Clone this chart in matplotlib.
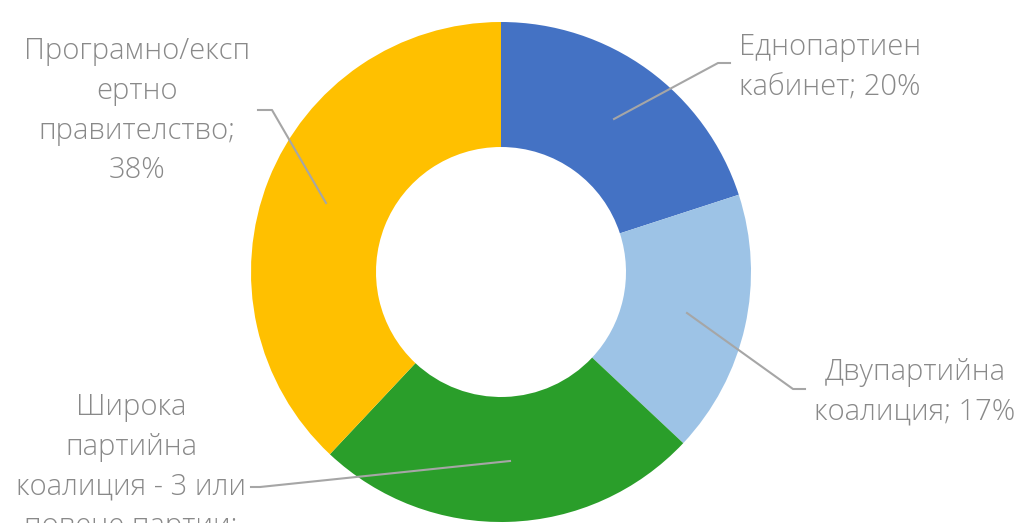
import matplotlib.pyplot as plt

# Данни
labels = ["Еднопартиен\nкабинет; 20%",
          "Двупартийна\nкоалиция; 17%",
          "Широка\nпартийна\nкоалиция - 3 или\nповече партии;\n25%",
          "Програмно/експ\nертно\nправителство;\n38%"]
values = [20, 17, 25, 38]
colors = ["#4472C4", "#9DC3E6", "#2A9E2A", "#FFC000"]

# Позиции на етикетите и линиите (в единици на радиуса)
label_pos = [(1.316, 0.82), (1.656, -0.48), (-1.48, -0.858), (-1.456, 0.644)]
leaders = [
    [(0.452, 0.612), (0.868, 0.836), (0.916, 0.836)],
    [(0.744, -0.164), (1.168, -0.468), (1.216, -0.468)],
    [(0.036, -0.756), (-0.964, -0.86), (-1.0, -0.86)],
    [(-0.70, 0.276), (-0.916, 0.648), (-0.972, 0.648)],
]

fig = plt.figure(figsize=(10.36, 5.23), dpi=100)
fig.patch.set_facecolor("white")
ax = fig.add_axes([251 / 1036, 1 / 523, 500 / 1036, 500 / 523])

ax.pie(values, colors=colors, startangle=90, counterclock=False, radius=1,
       wedgeprops=dict(width=0.5, edgecolor="none"))

for pts in leaders:
    xs = [p[0] for p in pts]
    ys = [p[1] for p in pts]
    ax.plot(xs, ys, color="#A6A6A6", lw=1.5, clip_on=False)

for lab, (x, y) in zip(labels, label_pos):
    ax.text(x, y, lab, ha="center", va="center", fontsize=21,
            family="Open Sans", fontweight="light", color="#898989",
            linespacing=1.45, clip_on=False)

ax.set_xlim(-1, 1)
ax.set_ylim(-1, 1)
ax.set_aspect("equal")
ax.axis("off")

fig.savefig("out.png", dpi=100, facecolor="white")
